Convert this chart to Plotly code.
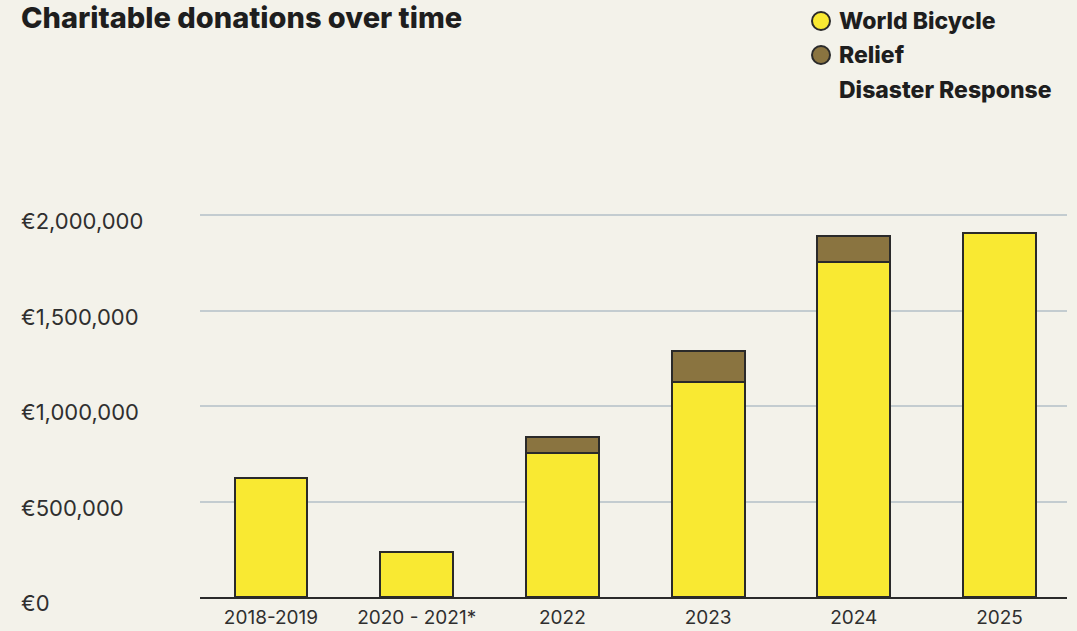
import plotly.graph_objects as go

categories = ["2018-2019", "2020 - 2021*", "2022", "2023", "2024", "2025"]
world_bicycle = [623000, 236000, 754000, 1126000, 1754000, 1906000]
relief = [0, 0, 84000, 162000, 136000, 0]
y_ticks = [0, 500000, 1000000, 1500000, 2000000]
y_tick_labels = ["€0", "€500,000", "€1,000,000", "€1,500,000", "€2,000,000"]
legend_names = ["World Bicycle", "Relief", "Disaster Response"]

BG = "#f3f2ea"
YELLOW = "#f9e932"
BROWN = "#8a7440"
OUTLINE = "#2a2a2a"
TEXT = "#2f2f2f"
FONT = "Inter"

W, H = 1077, 631
L, R, T, B = 200, 10, 211, 34
PW, PH = W - L - R, H - T - B
Y_MAX = 2000000 * PH / 382.0


def px_x(x):
    return (x - L) / PW


def px_y(y):
    return (H - B - y) / PH


fig = go.Figure()
fig.add_trace(go.Bar(x=categories, y=world_bicycle, name=legend_names[0],
                     marker=dict(color=YELLOW, line=dict(color=OUTLINE, width=2)),
                     width=0.5, showlegend=False))
fig.add_trace(go.Bar(x=categories, y=[r if r > 0 else None for r in relief],
                     name=legend_names[1] + " " + legend_names[2],
                     marker=dict(color=BROWN, line=dict(color=OUTLINE, width=2)),
                     width=0.5, showlegend=False))

# y tick labels as left-aligned annotations
for v, lab in zip(y_ticks, y_tick_labels):
    fig.add_annotation(x=px_x(19), xref="paper", y=v, yref="y", yshift=-6,
                       text=lab, showarrow=False, xanchor="left", yanchor="middle",
                       font=dict(family=FONT, size=22, color=TEXT, weight=400))

# title
fig.add_annotation(x=px_x(19), y=px_y(17), xref="paper", yref="paper",
                   text="Charitable donations over time", showarrow=False,
                   xanchor="left", yanchor="middle",
                   font=dict(family=FONT, size=29, color="#1e1e1e", weight=800))

# legend
legend_colors = [YELLOW, BROWN]
legend_circle_y = [21, 55]
for col, ly in zip(legend_colors, legend_circle_y):
    fig.add_shape(type="circle", xref="paper", yref="paper", xsizemode="pixel", ysizemode="pixel",
                  xanchor=px_x(812), yanchor=px_y(ly),
                  x0=0, x1=18, y0=-9, y1=9,
                  fillcolor=col, line=dict(color=OUTLINE, width=2))
legend_text_y = [21, 55, 90]
for name, ty in zip(legend_names, legend_text_y):
    fig.add_annotation(x=px_x(837), y=px_y(ty), xref="paper", yref="paper",
                       text=name, showarrow=False, xanchor="left", yanchor="middle",
                       font=dict(family=FONT, size=23, color="#1e1e1e", weight=800))

fig.update_layout(
    barmode="stack",
    width=W, height=H,
    margin=dict(l=L, r=R, t=T, b=B, autoexpand=False),
    paper_bgcolor=BG, plot_bgcolor=BG,
    font=dict(family=FONT, color=TEXT),
    xaxis=dict(type="category", range=[-0.487, 5.463], showgrid=False, showline=True,
               linecolor=OUTLINE, linewidth=1.5, ticks="", tickfont=dict(size=19, color=TEXT),
               ticklabelstandoff=2, automargin=False, fixedrange=True),
    yaxis=dict(range=[0, Y_MAX], tickvals=y_ticks, showticklabels=False,
               showgrid=True, gridcolor="#c3ccd0", gridwidth=1.5, zeroline=False, ticks="",
               automargin=False, fixedrange=True),
)

fig.write_html("out.html", config=dict(displayModeBar=False),
               post_script="document.body.style.margin='0';document.body.style.padding='0';")
